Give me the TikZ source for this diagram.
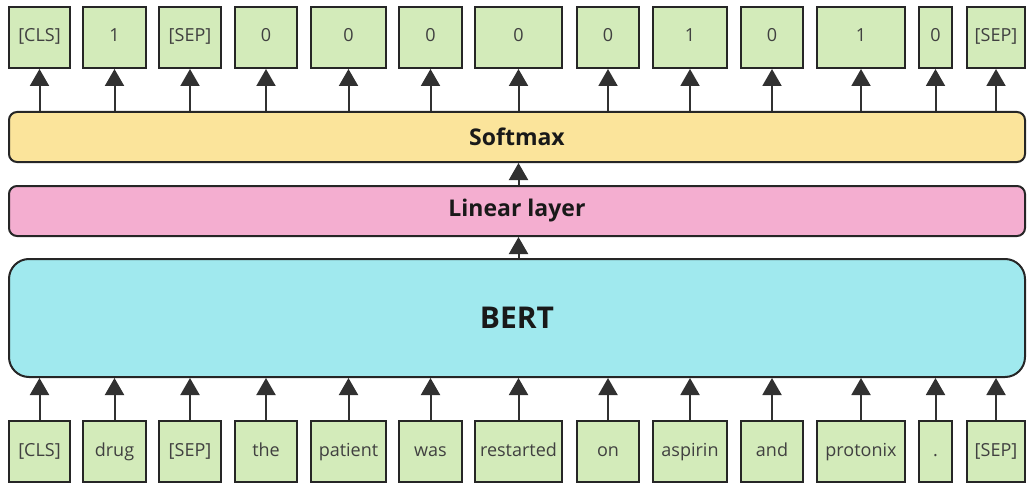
\documentclass[tikz,border=0pt]{standalone}
\usepackage{fontspec}
\setmainfont{Open Sans}
\usetikzlibrary{arrows.meta}
\definecolor{tokgreen}{RGB}{211,235,186}
\definecolor{smyellow}{RGB}{251,228,155}
\definecolor{linpink}{RGB}{244,174,208}
\definecolor{bertcyan}{RGB}{160,233,238}
\definecolor{edgec}{RGB}{38,38,38}
\definecolor{toktext}{RGB}{64,64,64}
\tikzset{
  tok/.style={draw=edgec, line width=2pt, fill=tokgreen, inner sep=0pt,
    text=toktext, font=\fontsize{18}{21}\selectfont, text height=13pt, text depth=4pt},
  layer/.style={draw=edgec, line width=2pt, inner sep=0pt, text=black!90,
    font=\bfseries\fontsize{23}{27}\selectfont},
  arr/.style={draw=edgec!95, line width=2pt, -{Triangle[width=19pt,length=17pt]}}
}
\begin{document}
\begin{tikzpicture}[x=1pt,y=-1pt]
\useasboundingbox (0,0) rectangle (1027,484);
% layers
\node[layer, fill=smyellow, rounded corners=8pt, minimum width=1016pt, minimum height=50pt] (sm) at (517,137) {Softmax};
\node[layer, fill=linpink, rounded corners=8pt, minimum width=1016pt, minimum height=50pt] (lin) at (517,211) {Linear layer};
\node[layer, fill=bertcyan, rounded corners=20pt, minimum width=1016pt, minimum height=118pt, font=\bfseries\fontsize{30}{34}\selectfont] (bert) at (517,318) {BERT};
% tokens: index/left/right/top/bottom
\foreach \i/\l/\r/\top/\bot in {
  1/9/70/[CLS]/[CLS],
  2/83/146/1/drug,
  3/159/221/[SEP]/[SEP],
  4/235/297/0/the,
  5/311/386/0/patient,
  6/399/462/0/was,
  7/475/562/0/restarted,
  8/577/639/0/on,
  9/653/727/1/aspirin,
  10/741/803/0/and,
  11/817/905/1/protonix,
  12/919/952/0/.,
  13/967/1025/[SEP]/[SEP]} {
  \pgfmathsetmacro{\cx}{(\l+\r)/2}
  \pgfmathsetmacro{\w}{\r-\l}
  \node[tok, minimum width=\w pt, minimum height=61pt] (t\i) at (\cx,37.5) {\top};
  \node[tok, minimum width=\w pt, minimum height=61pt] (b\i) at (\cx,451.5) {\bot};
  \draw[arr] (t\i.south |- sm.north) -- (t\i.south);
  \draw[arr] (b\i.north) -- (b\i.north |- bert.south);
}
\draw[arr] (lin.north -| t7.south) -- (sm.south -| t7.south);
\draw[arr] (bert.north -| t7.south) -- (lin.south -| t7.south);
\end{tikzpicture}
\end{document}
